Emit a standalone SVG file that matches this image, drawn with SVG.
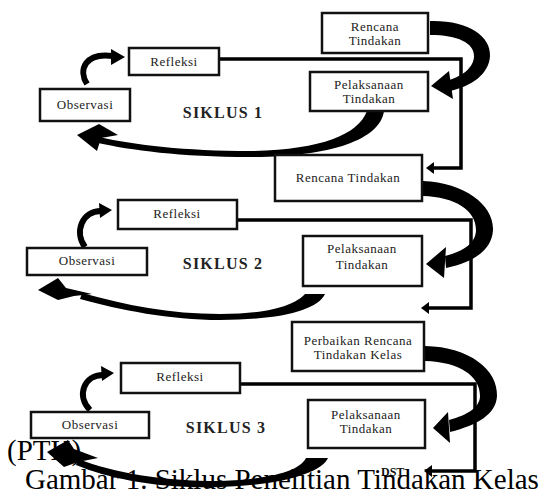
<svg xmlns="http://www.w3.org/2000/svg" width="545" height="496" viewBox="0 0 545 496">
<style>
.box{fill:#fff;stroke:#111;stroke-width:2.5}
.t{font-family:"Liberation Serif","Times New Roman",serif;font-size:13px;letter-spacing:0.5px;fill:#222;text-anchor:middle}
.sik{font-family:"Liberation Serif","Times New Roman",serif;font-size:16px;font-weight:bold;fill:#222;text-anchor:middle;letter-spacing:1.2px}
.ln{fill:none;stroke:#000;stroke-width:3.5}
.th{fill:#000;stroke:none}
.arc{fill:none;stroke:#000;stroke-width:6}
.cap{font-family:"Liberation Serif","Times New Roman",serif;font-size:29px;fill:#000}
</style>
<rect width="545" height="496" fill="#fff"/>
<g id="connectors">
  <polyline class="ln" points="219,59 461,59 461,168 432,168"/>
  <polygon class="th" points="426,168 434,162 434,174"/>
  <polyline class="ln" points="237,220 471,220 471,308 427,308"/>
  <polygon class="th" points="421,308 429,302 429,314"/>
  <polyline class="ln" points="240,384 475,384 475,471 430,471"/>
  <polygon class="th" points="424,471 432,465 432,477"/>
  <path class="th" d="M430 21 C468 20 491 36 490 56 C489 74 472 86 450 91 L449 80 C463 76 474 67 474 56 C474 43 458 35 430 35 Z"/>
  <polygon class="th" points="431,86 449,71 453,99"/>
  <path class="th" d="M423 181 C465 183 494 205 493 230 C492 250 474 262 446 268 L445 256 C465 251 476 242 476 230 C476 210 455 197 423 196 Z"/>
  <polygon class="th" points="426,264 446,247 444,278"/>
  <path class="th" d="M425 346 C470 347 498 370 497 396 C496 414 478 425 450 432 L449 420 C468 415 480 407 480 396 C480 376 460 362 425 361 Z"/>
  <polygon class="th" points="433,428 448,412 450,443"/>
  <path class="th" d="M384 111 C380 140 330 157 250 157 C180 157 130 150 98 143 L99 137 C135 145 185 151 250 151 C320 150 358 135 367 111 Z"/>
  <polygon class="th" points="77,135 99,124 118,135 101,138 97,151"/>
  <path class="th" d="M325 294 C318 310 280 320 220 320 C170 320 120 310 80 299 L82 293 C125 305 170 314 220 314 C270 314 295 305 305 294 Z"/>
  <polygon class="th" points="38,290 58,278 66,288 92,294 74,296 58,300"/>
  <path class="th" d="M328 458 C322 472 285 485 220 487 C160 489 110 479 76 465 L78 459 C115 473 160 481 220 481 C275 479 300 470 306 458 Z"/>
  <polygon class="th" points="47,452 68,440 74,449 98,458 78,462 64,467"/>
  <path class="arc" d="M87 84 C78 70 85 52 113 56"/>
  <polygon class="th" points="125,57 111,49 111,65"/>
  <path class="arc" d="M85 247 C74 232 82 211 101 211"/>
  <polygon class="th" points="112,210 99,203 100,218"/>
  <path class="arc" d="M90 410 C76 396 84 375 103 375"/>
  <polygon class="th" points="114,373 101,366 102,381"/>
</g>
<g id="rencana1"><rect class="box" x="322" y="13" width="106" height="40"/><text class="t" x="375" y="31">Rencana</text><text class="t" x="375" y="45">Tindakan</text></g>
<g id="refleksi1"><rect class="box" x="129" y="48" width="90" height="27"/><text class="t" x="174" y="66">Refleksi</text></g>
<g id="pelaksanaan1"><rect class="box" x="310" y="72" width="118" height="39"/><text class="t" x="369" y="89">Pelaksanaan</text><text class="t" x="369" y="103">Tindakan</text></g>
<g id="observasi1"><rect class="box" x="40" y="89" width="90" height="32"/><text class="t" x="85" y="109">Observasi</text></g>
<g id="siklus1"><text class="sik" x="223" y="118">SIKLUS 1</text></g>
<g id="rencana2"><rect class="box" x="275" y="155" width="147" height="46"/><text class="t" x="348" y="182">Rencana Tindakan</text></g>
<g id="refleksi2"><rect class="box" x="118" y="200" width="119" height="29"/><text class="t" x="177" y="218">Refleksi</text></g>
<g id="pelaksanaan2"><rect class="box" x="303" y="236" width="119" height="50"/><text class="t" x="362" y="253">Pelaksanaan</text><text class="t" x="362" y="269">Tindakan</text></g>
<g id="observasi2"><rect class="box" x="27" y="248" width="120" height="27"/><text class="t" x="87" y="265">Observasi</text></g>
<g id="siklus2"><text class="sik" x="223" y="269">SIKLUS 2</text></g>
<g id="perbaikan3"><rect class="box" x="292" y="322" width="132" height="49"/><text class="t" x="358" y="345">Perbaikan Rencana</text><text class="t" x="358" y="359">Tindakan Kelas</text></g>
<g id="refleksi3"><rect class="box" x="121" y="363" width="119" height="30"/><text class="t" x="180" y="381">Refleksi</text></g>
<g id="pelaksanaan3"><rect class="box" x="308" y="400" width="117" height="48"/><text class="t" x="366" y="419">Pelaksanaan</text><text class="t" x="366" y="433">Tindakan</text></g>
<g id="observasi3"><rect class="box" x="31" y="412" width="118" height="26"/><text class="t" x="90" y="429">Observasi</text></g>
<g id="siklus3"><text class="sik" x="226" y="433">SIKLUS 3</text></g>
<g id="dst"><text x="381" y="476" style="font-family:'Liberation Serif',serif;font-size:12px;font-weight:bold;fill:#111">DST</text></g>
<g id="caption">
  <text class="cap" x="7" y="460">(PTK)</text>
  <text class="cap" x="25" y="489">Gambar 1. Siklus Penelitian Tindakan Kelas</text>
</g>
</svg>
